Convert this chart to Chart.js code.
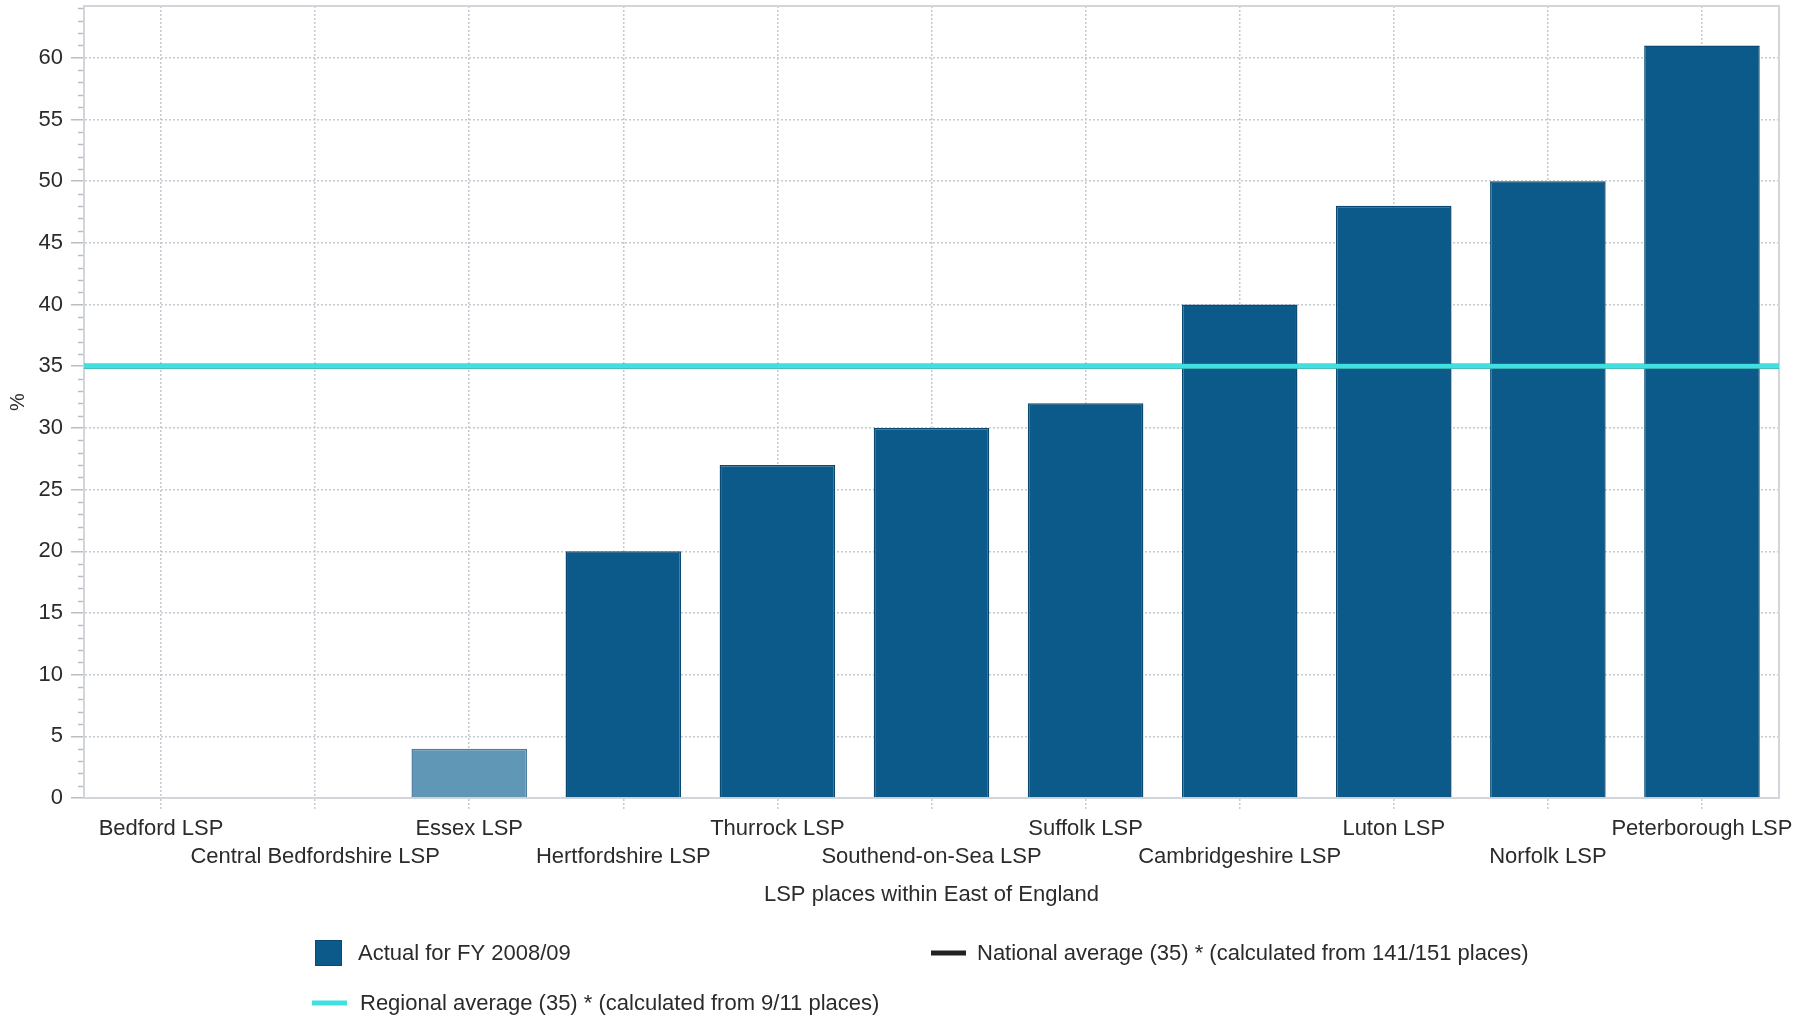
<!DOCTYPE html>
<html lang="en">
<head>
    <meta charset="UTF-8">
    <title>LSP places within East of England</title>
    <script src="https://cdn.jsdelivr.net/npm/chart.js@4.4.0/dist/chart.umd.min.js"></script>
    <style>
        body {
            margin: 0;
            background-color: #ffffff;
        }
        .wrap {
            position: relative;
            width: 1813px;
            height: 1018px;
        }
    </style>
</head>
<body>
    <div class="wrap">
        <canvas id="chart"></canvas>
    </div>

    <script>
        // data
        const places = [
            'Bedford LSP', 'Central Bedfordshire LSP', 'Essex LSP', 'Hertfordshire LSP',
            'Thurrock LSP', 'Southend-on-Sea LSP', 'Suffolk LSP', 'Cambridgeshire LSP',
            'Luton LSP', 'Norfolk LSP', 'Peterborough LSP'
        ];
        const actual = [null, null, 4, 20, 27, 30, 32, 40, 48, 50, 61];
        const nationalAverage = 35;
        const regionalAverage = 35;
        const yMax = 64.2;
        const yStep = 5;
        const lightPlace = 'Essex LSP';

        const seriesNames = {
            actual: 'Actual for FY 2008/09',
            national: 'National average (35) * (calculated from 141/151 places)',
            regional: 'Regional average (35) * (calculated from 9/11 places)'
        };

        const darkBlue = '#0b5a8a';
        const lightBlue = '#6097b7';
        const nationalColor = '#222222';
        const cyan = '#40e0e0';
        const gridColor = '#c5cad0';
        const frameColor = '#d2d6db';
        const textColor = '#2b2b2b';
        const font = '"Liberation Sans", Arial, sans-serif';

        function hLine(ctx, x1, x2, y, color, width) {
            ctx.strokeStyle = color;
            ctx.lineWidth = width;
            ctx.beginPath();
            ctx.moveTo(x1, y);
            ctx.lineTo(x2, y);
            ctx.stroke();
        }

        // minor y ticks, plot frame, average lines and the legend
        const extras = {
            id: 'extras',
            beforeDatasetsDraw(chart) {
                const ctx = chart.ctx;
                const area = chart.chartArea;
                const y = chart.scales.y;
                ctx.save();
                for (let v = 0; v <= Math.floor(yMax); v++) {
                    if (v % yStep === 0) continue;
                    const py = Math.round(y.getPixelForValue(v)) + 0.5;
                    hLine(ctx, area.left - 6, area.left, py, '#b9bec5', 1.5);
                }
                ctx.strokeStyle = frameColor;
                ctx.lineWidth = 2;
                ctx.strokeRect(area.left, area.top, area.right - area.left, area.bottom - area.top);
                ctx.restore();
            },
            afterDatasetsDraw(chart) {
                const ctx = chart.ctx;
                const area = chart.chartArea;
                const y = chart.scales.y;
                ctx.save();
                hLine(ctx, area.left, area.right, y.getPixelForValue(nationalAverage), nationalColor, 5);
                hLine(ctx, area.left, area.right, y.getPixelForValue(regionalAverage), cyan, 5);
                ctx.restore();
            },
            afterDraw(chart) {
                const ctx = chart.ctx;
                ctx.save();
                ctx.font = '22px ' + font;
                ctx.textBaseline = 'middle';

                // row 1: bar swatch
                ctx.fillStyle = darkBlue;
                ctx.fillRect(315, 940, 27, 26);
                ctx.strokeStyle = '#0a4a72';
                ctx.lineWidth = 1;
                ctx.strokeRect(315.5, 940.5, 26, 25);
                ctx.fillStyle = textColor;
                ctx.fillText(seriesNames.actual, 358, 954);

                // row 1: national line
                hLine(ctx, 931, 966, 953, nationalColor, 5);
                ctx.fillText(seriesNames.national, 977, 954);

                // row 2: regional line
                hLine(ctx, 312, 347, 1003, cyan, 5);
                ctx.fillText(seriesNames.regional, 360, 1004);
                ctx.restore();
            }
        };

        new Chart(document.getElementById('chart'), {
            type: 'bar',
            data: {
                labels: places,
                datasets: [
                    {
                        label: seriesNames.actual,
                        data: actual,
                        backgroundColor: c => places[c.dataIndex] === lightPlace ? lightBlue : darkBlue,
                        borderColor: c => places[c.dataIndex] === lightPlace ? '#4f7f9d' : '#0a4a72',
                        borderWidth: 1.5,
                        categoryPercentage: 0.75,
                        barPercentage: 1,
                        grouped: false
                    }
                ]
            },
            options: {
                responsive: true,
                maintainAspectRatio: false,
                animation: false,
                layout: {
                    padding: { top: 6, right: 34, bottom: 110, left: 0 }
                },
                plugins: {
                    legend: { display: false },
                    tooltip: { enabled: false }
                },
                scales: {
                    x: {
                        offset: true,
                        afterFit(scale) { scale.height = 110; },
                        grid: {
                            offset: false,
                            color: gridColor,
                            lineWidth: 1.5,
                            tickLength: 12,
                            tickBorderDash: [2, 2],
                            tickColor: gridColor
                        },
                        border: { display: true, color: frameColor, width: 2, dash: [2, 2] },
                        ticks: {
                            autoSkip: false,
                            maxRotation: 0,
                            padding: 5,
                            color: textColor,
                            font: { family: font, size: 22, lineHeight: 1.27 },
                            callback(value, index) {
                                const name = places[index];
                                return index % 2 === 0 ? name : ['', name];
                            }
                        },
                        title: {
                            display: true,
                            text: 'LSP places within East of England',
                            color: textColor,
                            font: { family: font, size: 22 },
                            padding: { top: 0, bottom: 0 }
                        }
                    },
                    y: {
                        min: 0,
                        max: yMax,
                        afterFit(scale) {
                            scale.width = 84;
                            scale.paddingTop = 0;
                            scale.paddingBottom = 0;
                        },
                        afterBuildTicks(scale) {
                            scale.ticks = scale.ticks.filter(t => t.value % yStep === 0);
                        },
                        grid: {
                            color: gridColor,
                            lineWidth: 1.5,
                            tickLength: 13,
                            tickBorderDash: [],
                            tickColor: '#b9bec5'
                        },
                        border: { display: true, color: frameColor, width: 2, dash: [2, 2] },
                        ticks: {
                            stepSize: yStep,
                            padding: 8,
                            color: textColor,
                            font: { family: font, size: 22 }
                        },
                        title: {
                            display: true,
                            text: '%',
                            color: textColor,
                            font: { family: font, size: 20 },
                            padding: { top: 6, bottom: 0 }
                        }
                    }
                }
            },
            plugins: [extras]
        });
    </script>
</body>
</html>
